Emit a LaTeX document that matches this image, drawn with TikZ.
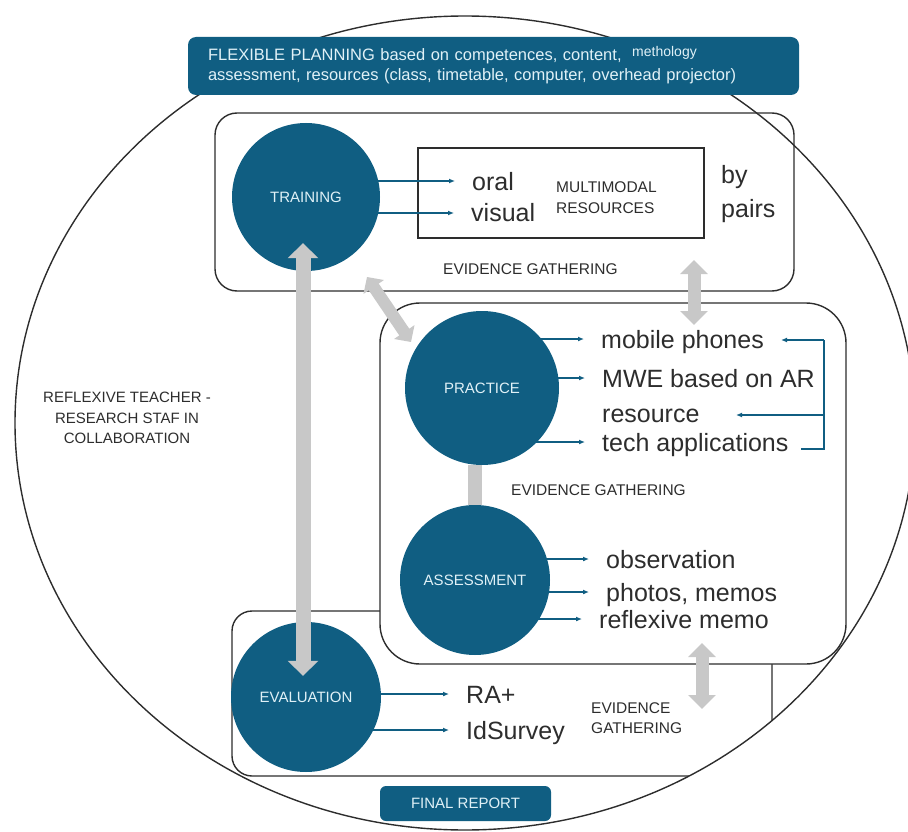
\documentclass[tikz,border=0pt]{standalone}
\usepackage{fontspec}
\setmainfont{Liberation Sans}
\usetikzlibrary{arrows.meta}
\definecolor{deepteal}{RGB}{16,94,130}
\definecolor{paleteal}{RGB}{224,241,247}
\definecolor{flowgray}{RGB}{200,200,200}
\definecolor{inkgray}{RGB}{45,45,45}
\pgfdeclarelayer{back}
\pgfsetlayers{back,main}

\begin{document}
\begin{tikzpicture}[x=1pt,y=-1pt,
  stage/.style={circle,fill=deepteal,minimum size=#1,inner sep=0pt,text=paleteal,font=\fontsize{15}{15}\selectfont},
  panel/.style={draw=inkgray,line width=1.4pt,fill=white},
  item/.style={anchor=base west,inner sep=0pt,text height=18pt,text depth=0pt,text=inkgray,font=\fontsize{25}{25}\selectfont},
  tag/.style={anchor=west,inner sep=0pt,align=left,text=inkgray,font=\fontsize{15.5}{20.5}\selectfont},
  link/.style={draw=deepteal,line width=1.3pt,-{Latex[length=6pt,width=5pt]}},
  flow/.style={draw=flowgray,line width=15pt,{Triangle[length=15pt,width=30pt]}-{Triangle[length=15pt,width=30pt]}}]
\useasboundingbox (0,0) rectangle (908,832);

\begin{pgfonlayer}{back}
\begin{scope}
\clip (465,423) ellipse [x radius=450, y radius=407];
\node[panel,rounded corners=20pt,minimum width=540pt,minimum height=165pt] (evalbox) at (502,693.5) {};
\end{scope}
\node[panel,rounded corners=22pt,minimum width=579pt,minimum height=178pt] (trainbox) at (504.5,202) {};
\node[draw=inkgray,line width=1.2pt,minimum width=286pt,minimum height=90pt] (mmbox) at (561,193) {};
\node[panel,rounded corners=40pt,minimum width=466pt,minimum height=361pt] (pracbox) at (613,483.5) {};
\draw[inkgray,line width=1.4pt] (465,423) ellipse [x radius=450, y radius=407];
\end{pgfonlayer}

\node[fill=deepteal,rounded corners=8pt,minimum width=611pt,minimum height=58pt,text width=571pt,inner xsep=20pt,align=left,text=paleteal,font=\fontsize{16.5}{20}\selectfont] (plan) at (493.5,66) {FLEXIBLE PLANNING based on competences, content,\\assessment, resources (class, timetable, computer, overhead projector)};
\node[anchor=base west,inner sep=0pt,text=paleteal,font=\fontsize{14}{14}\selectfont] (meth) at (632,57) {methology};

\node[stage=148pt] (train) at (306,197) {TRAINING};
\node[stage=154pt] (prac) at (482,388) {PRACTICE};
\node[stage=150pt] (assess) at (475,580) {ASSESSMENT};
\node[stage=150pt] (eval) at (306,697) {EVALUATION};

\node[item] (oral) at (472,190) {oral};
\node[item] (visual) at (471,222) {visual};
\node[tag] (mm) at (556,197.5) {MULTIMODAL\\RESOURCES};
\node[item] (by) at (721,184) {by};
\node[item] (pairs) at (721,217) {pairs};
\node[tag] (evtrain) at (443,269.5) {EVIDENCE GATHERING};

\node[item] (mob) at (601,348) {mobile phones};
\node[item] (mwe) at (602,387) {MWE based on AR};
\node[item] (res) at (602,422) {resource};
\node[item] (tech) at (602,451) {tech applications};
\node[tag] (evprac) at (511,490.5) {EVIDENCE GATHERING};

\node[item] (obs) at (606,568) {observation};
\node[item] (photo) at (606,601) {photos, memos};
\node[item] (memo) at (599,628) {reflexive memo};

\node[item] (ra) at (466,703) {RA+};
\node[item] (ids) at (466,739) {IdSurvey};
\node[tag] (eveval) at (591,718) {EVIDENCE\\GATHERING};

\node[fill=deepteal,rounded corners=6pt,minimum width=171pt,minimum height=35pt,text=paleteal,font=\fontsize{15}{15}\selectfont] (report) at (465.5,803.5) {FINAL REPORT};
\node[align=center,text=inkgray,font=\fontsize{15}{20.5}\selectfont] (team) at (127,418) {REFLEXIVE TEACHER -\\RESEARCH STAF IN\\COLLABORATION};

\begin{pgfonlayer}{back}
\foreach \c/\t in {train/oral,train/visual,prac/mob,prac/mwe,prac/tech,assess/obs,assess/photo,assess/memo,eval/ra,eval/ids}
  \draw[link] (\c.center |- \t.west) -- ([xshift=-17pt]\t.west);
\end{pgfonlayer}

\coordinate (brtop) at (824,340);
\coordinate (brmid) at (824,415);
\coordinate (brbot) at (824,449);
\coordinate (mobtip) at (781,340);
\coordinate (restip) at (736,415);
\coordinate (techend) at (801,449);
\draw[deepteal,line width=1.3pt] (brtop) -- (brbot) -- (techend);
\draw[link] (brtop) -- (mobtip);
\draw[link] (brmid) -- (restip);

\coordinate (dg1) at (367,277);
\coordinate (dg2) at (411,342);
\coordinate (up1) at (694,260);
\coordinate (up2) at (694,325);
\coordinate (lo1) at (702,643);
\coordinate (lo2) at (702,709);
\draw[flow] ([xshift=-3pt,yshift=28pt]train.south) -- ([xshift=-3pt,yshift=-54pt]eval.north);
\draw[flow,line width=12pt,{Triangle[length=12pt,width=24pt]}-{Triangle[length=12pt,width=24pt]}] (dg1) -- (dg2);
\draw[flow,line width=13pt,{Triangle[length=14pt,width=27pt]}-{Triangle[length=14pt,width=27pt]}] (up1) -- (up2);
\draw[flow,line width=13pt,{Triangle[length=14pt,width=27pt]}-{Triangle[length=14pt,width=27pt]}] (lo1) -- (lo2);
\draw[flowgray,line width=14pt] (assess.north |- prac.south) -- (assess.north);
\end{tikzpicture}
\end{document}
